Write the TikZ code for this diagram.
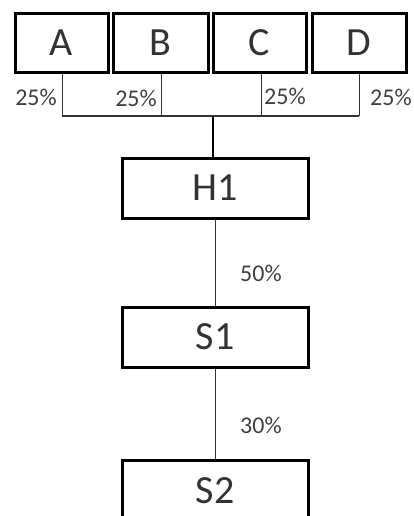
\documentclass[tikz,border=0pt]{standalone}
\usepackage{fontspec}
\setmainfont{Carlito}
\begin{document}
\begin{tikzpicture}[x=1pt,y=-1pt,
  box/.style={draw=black,line width=3pt,minimum width=#1,inner sep=0pt,font=\fontsize{40}{44}\selectfont,text=black!80},
  box/.default=93pt,
  pct/.style={font=\fontsize{24}{28}\selectfont,text=black!75,inner sep=0pt},
  conn/.style={draw=black!80,line width=1pt}]
\useasboundingbox (0,0) rectangle (413,516);
\node[box=93pt,minimum height=59pt] (A) at (61.5,43) {A};
\node[box=95pt,minimum height=59pt] (B) at (160.5,43) {B};
\node[box=93pt,minimum height=59pt] (C) at (259.5,43) {C};
\node[box=94pt,minimum height=59pt] (D) at (359,43) {D};
\node[box=186pt,minimum height=60pt] (H1) at (215,188) {H1};
\node[box=186pt,minimum height=60pt] (S1) at (215,337) {S1};
\node[box=186pt,minimum height=60pt,anchor=north] (S2) at (215,459) {S2};
\coordinate (ja) at (62,116);
\coordinate (jd) at (359,116);
\coordinate (jm) at (213,116);
\draw[conn] (ja) -- (jd);
\draw[conn] (ja) -- (ja |- A.south);
\draw[conn] (161,116) -- (161,73);
\draw[conn] (261,116) -- (261,73);
\draw[conn] (jd) -- (jd |- D.south);
\draw[draw=black,line width=2pt] (jm) -- (jm |- H1.north);
\draw[conn] (H1.south) -- (S1.north);
\draw[conn] (S1.south) -- (S2.north);
\node[pct,anchor=east] (la) at (57,97) {25\%};
\node[pct,anchor=east] (lb) at (157,98) {25\%};
\node[pct,anchor=west] (lc) at (264,96) {25\%};
\node[pct,anchor=west] (ld) at (370,97) {25\%};
\node[pct,anchor=west] (l50) at (240,273) {50\%};
\node[pct,anchor=west] (l30) at (240,425) {30\%};
\end{tikzpicture}
\end{document}
